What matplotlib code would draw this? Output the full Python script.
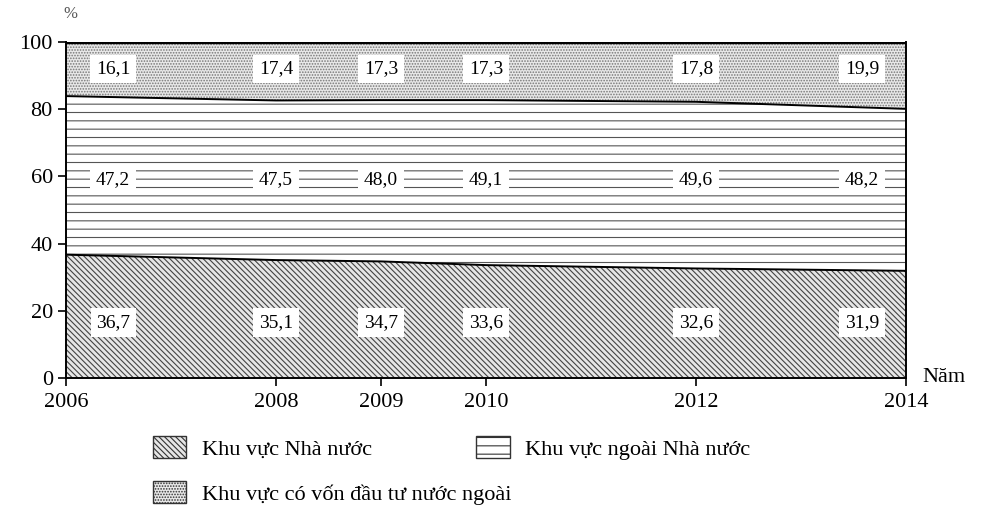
import matplotlib.pyplot as plt
import numpy as np

years = [2006, 2008, 2009, 2010, 2012, 2014]
nha_nuoc = [36.7, 35.1, 34.7, 33.6, 32.6, 31.9]
ngoai_nha_nuoc = [47.2, 47.5, 48.0, 49.1, 49.6, 48.2]
fdi = [16.1, 17.4, 17.3, 17.3, 17.8, 19.9]
series_labels = ["Khu vực Nhà nước", "Khu vực ngoài Nhà nước",
                 "Khu vực có vốn đầu tư nước ngoài"]

plt.rcParams.update({
    "font.family": ["Liberation Serif", "DejaVu Serif"],
    "font.size": 14,
    "hatch.linewidth": 0.8,
})

fig = plt.figure(figsize=(9.86, 5.09), dpi=100)
ax = fig.add_axes([66 / 986, 1 - 378 / 509, 840 / 986, 336 / 509])

x = np.array(years)
a = np.array(nha_nuoc)
b = a + np.array(ngoai_nha_nuoc)
c = b + np.array(fdi)

p1 = ax.fill_between(x, 0, a, facecolor="#e6e6e6", edgecolor="#444444", hatch="\\\\\\\\\\\\", linewidth=0)
p2 = ax.fill_between(x, a, b, facecolor="white", edgecolor="#555555", hatch="--", linewidth=0)
p3 = ax.fill_between(x, b, c, facecolor="#e8e8e8", edgecolor="#777777", hatch="......", linewidth=0)
ax.plot(x, a, color="black", lw=1.4)
ax.plot(x, b, color="black", lw=1.4)
ax.axhline(100, color="black", lw=2.4)

# value labels in white boxes
lab_x = list(years)
lab_x[0] = years[0] + 0.45
lab_x[-1] = years[-1] - 0.42
box = dict(facecolor="white", edgecolor="none", pad=4)
for xi, v1, v2, v3 in zip(lab_x, nha_nuoc, ngoai_nha_nuoc, fdi):
    ax.text(xi, 16.5, f"{v1:.1f}".replace(".", ","), ha="center", va="center", fontsize=14, bbox=box)
    ax.text(xi, 59, f"{v2:.1f}".replace(".", ","), ha="center", va="center", fontsize=14, bbox=box)
    ax.text(xi, 92, f"{v3:.1f}".replace(".", ","), ha="center", va="center", fontsize=14, bbox=box)

ax.set_xlim(2006, 2014)
ax.set_ylim(0, 100)
ax.set_xticks(years)
ax.set_yticks([0, 20, 40, 60, 80, 100])
ax.tick_params(axis="both", labelsize=16, length=6, width=1.2)
ax.tick_params(axis="x", pad=5)
ax.spines["top"].set_visible(False)
for s in ["left", "right", "bottom"]:
    ax.spines[s].set_linewidth(1.4)

fig.text(70 / 986, 1 - 14 / 509, "%", ha="center", va="center", fontsize=12, color="#555555")
fig.text(944 / 986, 1 - 378 / 509, "Năm", ha="center", va="center", fontsize=16)

leg_kw = dict(frameon=False, fontsize=16, handlelength=1.5, handleheight=1.1,
              handletextpad=0.7, borderpad=0, borderaxespad=0)
leg1 = fig.legend([p1, p2], series_labels[:2], ncol=2, loc="center left",
                  bbox_to_anchor=(153 / 986, 1 - 448 / 509), columnspacing=4.7, **leg_kw)
leg2 = fig.legend([p3], series_labels[2:], loc="center left",
                  bbox_to_anchor=(153 / 986, 1 - 493 / 509), **leg_kw)
for leg in (leg1, leg2):
    for h in leg.legend_handles:
        h.set_edgecolor("#333333")
        h.set_linewidth(1.0)

fig.savefig("out.png", dpi=100)
